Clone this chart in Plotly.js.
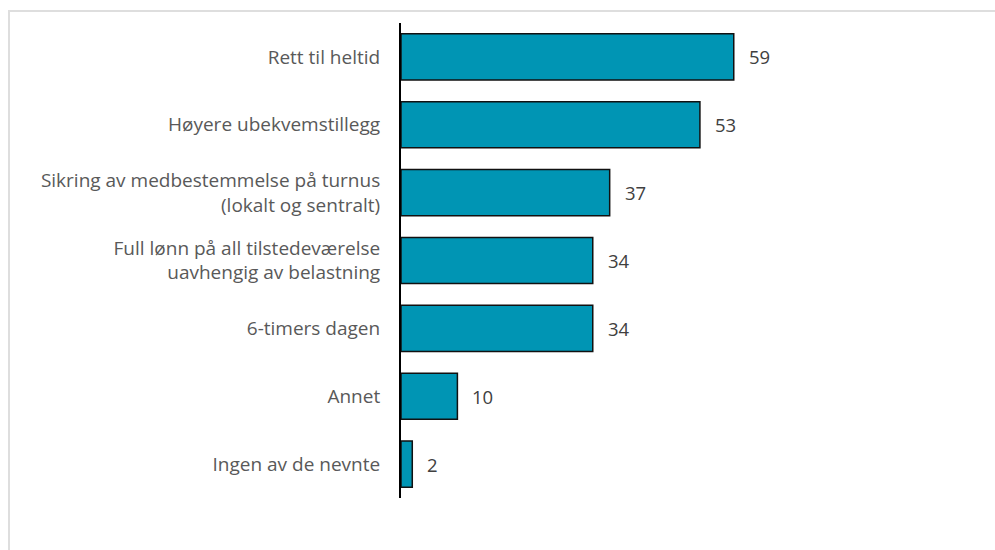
<!DOCTYPE html>
<html>
<head>
<meta charset="utf-8">
<script src="https://cdn.plot.ly/plotly-3.0.1.min.js"></script>
<style>
  html, body { margin: 0; padding: 0; background: #fff; }
  #wrap { position: relative; width: 995px; height: 550px; overflow: hidden; }
  #chart { position: absolute; left: 0; top: 0; width: 995px; height: 550px; }
  #frame { position: absolute; left: 8px; top: 10px; width: 1100px; height: 700px;
           border-top: 2px solid #dedede; border-left: 2px solid #dedede; pointer-events: none; }
</style>
</head>
<body>
<div id="wrap">
  <div id="chart"></div>
  <div id="frame"></div>
</div>
<script>
const categories = [
  "Rett til heltid",
  "Høyere ubekvemstillegg",
  "Sikring av medbestemmelse på turnus<br>(lokalt og sentralt)",
  "Full lønn på all tilstedeværelse<br>uavhengig av belastning",
  "6-timers dagen",
  "Annet",
  "Ingen av de nevnte"
];
const values = [59, 53, 37, 34, 34, 10, 2];

const FONT = "'Open Sans', 'Noto Sans', sans-serif";

const trace = {
  type: "bar",
  orientation: "h",
  x: values,
  y: categories,
  marker: { color: "#0095b4", line: { color: "#111111", width: 1.5 } },
  hoverinfo: "none"
};

const annotations = values.map((v, i) => ({
  x: v, y: categories[i], xref: "x", yref: "y",
  text: String(v), showarrow: false, xanchor: "left", xshift: 13,
  font: { family: FONT, size: 18.5, color: "#404040" }
}));

const layout = {
  width: 995, height: 550,
  margin: { l: 401, r: 30, t: 23, b: 52 },
  paper_bgcolor: "#ffffff", plot_bgcolor: "#ffffff",
  showlegend: false,
  bargap: 0.32,
  xaxis: { range: [0, 100], showgrid: false, zeroline: false, showline: false,
           showticklabels: false, ticks: "" },
  yaxis: { autorange: "reversed", showgrid: false, zeroline: false,
           showline: true, linecolor: "#000000", linewidth: 2,
           ticks: "", ticklabelstandoff: 15,
           tickfont: { family: FONT, size: 19, color: "#595959" } },
  annotations: annotations,
  font: { family: FONT }
};

Plotly.newPlot("chart", [trace], layout, { displayModeBar: false, staticPlot: true });
</script>
</body>
</html>
